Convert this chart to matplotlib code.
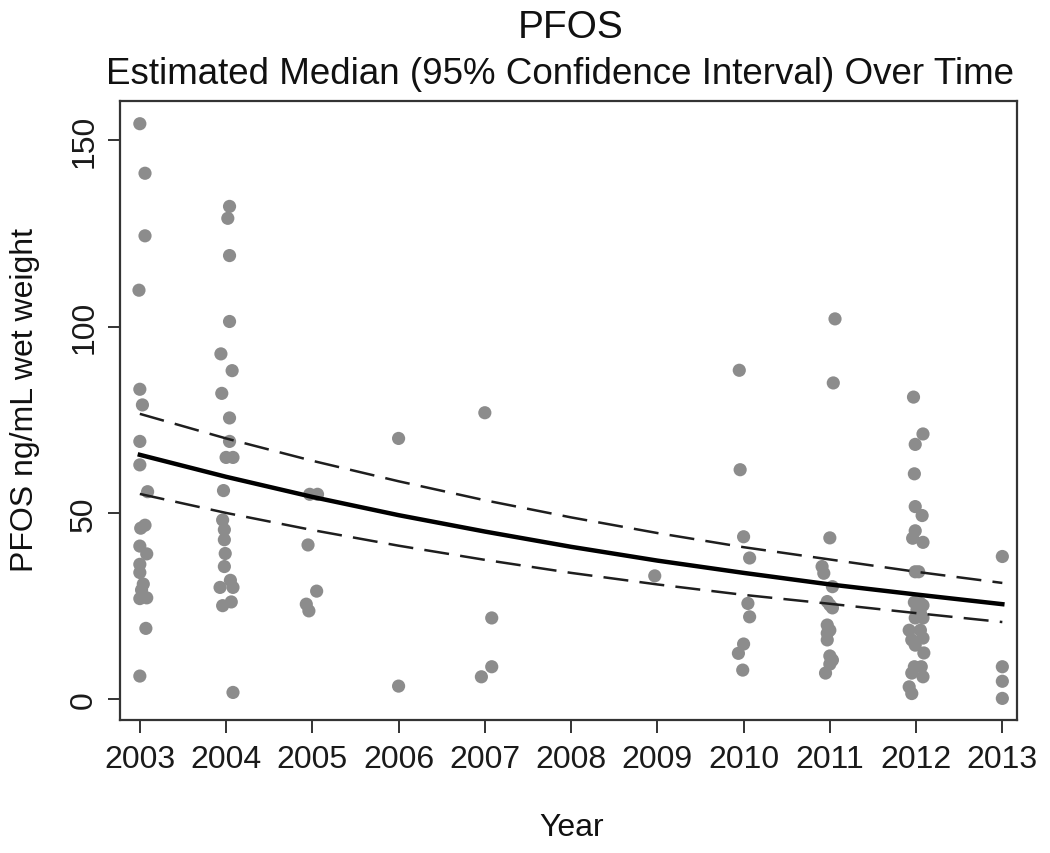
import matplotlib
matplotlib.use("Agg")
import matplotlib.pyplot as plt

plt.rcParams['font.family'] = ['Liberation Sans', 'DejaVu Sans']

# observed PFOS values (ng/mL), grouped by sampling year; x = year + small jitter
x_2003 = [2003.00, 2003.06, 2003.06, 2002.99, 2003.00, 2003.03, 2003.00, 2003.00, 2003.09, 2003.06,
          2003.01, 2003.00, 2003.08, 2003.00, 2003.00, 2003.04, 2003.02, 2003.00, 2003.08, 2003.07, 2003.00]
y_2003 = [154.5, 141.2, 124.4, 109.8, 83.2, 79.0, 69.2, 62.9, 55.7, 46.7,
          45.9, 41.1, 39.0, 36.2, 34.0, 30.9, 29.3, 27.0, 27.2, 19.0, 6.2]

x_2004 = [2004.04, 2004.02, 2004.04, 2004.04, 2003.94, 2004.07, 2003.95, 2004.04, 2004.04, 2004.00,
          2004.08, 2003.97, 2003.96, 2003.98, 2003.98, 2003.99, 2003.98, 2004.05, 2003.93, 2004.08,
          2004.06, 2003.96, 2004.08]
y_2004 = [132.3, 129.1, 119.1, 101.4, 92.7, 88.2, 82.1, 75.5, 69.2, 64.9,
          64.9, 56.0, 48.1, 45.5, 42.8, 39.1, 35.6, 31.9, 30.0, 30.0,
          26.1, 25.1, 1.8]

x_2005 = [2004.97, 2005.06, 2004.95, 2005.05, 2004.93, 2004.96]
y_2005 = [55.0, 55.0, 41.4, 29.0, 25.5, 23.7]

x_2006 = [2006.00, 2006.00]
y_2006 = [70.0, 3.5]

x_2007 = [2007.00, 2007.08, 2007.08, 2006.96]
y_2007 = [76.9, 21.8, 8.7, 6.0]

x_2009 = [2008.97]
y_2009 = [33.1]

x_2010 = [2009.95, 2009.96, 2010.00, 2010.07, 2010.05, 2010.07, 2010.00, 2009.94, 2009.99]
y_2010 = [88.3, 61.6, 43.6, 37.9, 25.7, 22.1, 14.8, 12.3, 7.8]

x_2011 = [2011.06, 2011.04, 2011.00, 2010.91, 2010.93, 2011.03, 2010.97, 2011.00, 2011.03,
          2010.97, 2011.00, 2010.97, 2010.97, 2011.00, 2011.03, 2011.00, 2010.95]
y_2011 = [102.1, 84.9, 43.3, 35.6, 33.8, 30.2, 26.2, 25.3, 24.5,
          19.9, 18.5, 17.7, 15.9, 11.6, 10.5, 9.4, 7.0]

x_2012 = [2011.97, 2012.08, 2011.99, 2011.98, 2011.99, 2012.07, 2011.99, 2011.96, 2012.08,
          2011.99, 2012.03, 2011.98, 2012.05, 2012.08, 2012.01, 2012.05, 2011.99, 2012.08,
          2011.92, 2012.05, 2011.95, 2012.08, 2011.99, 2012.09, 2011.98, 2012.06, 2011.95,
          2012.08, 2011.92, 2011.95]
y_2012 = [81.1, 71.2, 68.4, 60.5, 51.7, 49.3, 45.2, 43.2, 42.1,
          34.2, 34.2, 26.0, 25.7, 25.2, 23.9, 23.1, 21.8, 21.8,
          18.5, 18.5, 15.9, 16.4, 14.5, 12.4, 8.7, 8.7, 7.0,
          6.0, 3.3, 1.5]

x_2013 = [2013.00, 2013.00, 2013.00, 2013.00]
y_2013 = [38.3, 8.7, 4.8, 0.2]

# estimated median and 95% CI read at each year
fit_years = [2003, 2004, 2005, 2006, 2007, 2008, 2009, 2010, 2011, 2012, 2013]
median = [65.6, 59.7, 54.3, 49.4, 45.0, 40.9, 37.2, 33.9, 30.8, 28.1, 25.5]
upper = [76.6, 70.0, 64.0, 58.5, 53.4, 48.8, 44.6, 40.8, 37.5, 34.2, 31.2]
lower = [55.1, 50.0, 45.4, 41.2, 37.4, 33.9, 30.8, 28.0, 25.6, 23.1, 20.7]

year_ticks = list(range(2003, 2014))
y_ticks = [0, 50, 100, 150]

xs = x_2003 + x_2004 + x_2005 + x_2006 + x_2007 + x_2009 + x_2010 + x_2011 + x_2012 + x_2013
ys = y_2003 + y_2004 + y_2005 + y_2006 + y_2007 + y_2009 + y_2010 + y_2011 + y_2012 + y_2013

fig = plt.figure(figsize=(10.5, 8.54), dpi=100)
ax = fig.add_axes([120 / 1050, 1 - 721 / 854, 897 / 1050, 619 / 854])

ax.scatter(xs, ys, s=90, color='#8c8c8c', edgecolors='none', zorder=2)
ax.plot(fit_years, median, color='black', lw=3.2, zorder=3)
ax.plot(fit_years, upper, color='#1e1e1e', lw=1.8, dashes=(10, 4.5), zorder=3)
ax.plot(fit_years, lower, color='#1e1e1e', lw=1.8, dashes=(10, 4.5), zorder=3)

ax.set_xlim(2002.77, 2013.17)
ax.set_ylim(-5.6, 160.6)
ax.set_xticks(year_ticks)
ax.set_xticklabels([str(y) for y in year_ticks])
ax.set_yticks(y_ticks)
ax.set_yticklabels([str(v) for v in y_ticks], rotation=90, va='center')

for sp in ax.spines.values():
    sp.set_color('#333333')
    sp.set_linewidth(1.6)
ax.tick_params(axis='both', direction='out', length=9, width=1.4, color='#333333',
               labelsize=23)
ax.tick_params(axis='x', pad=8)
ax.tick_params(axis='y', pad=6)
for lab in ax.get_xticklabels() + ax.get_yticklabels():
    lab.set_color('#1a1a1a')

fig.text(571 / 1050, 1 - 28 / 854, 'PFOS', ha='center', va='center', fontsize=28, color='#111111')
fig.text(560 / 1050, 1 - 74 / 854, 'Estimated Median (95% Confidence Interval) Over Time',
         ha='center', va='center', fontsize=26.5, color='#111111')
fig.text(572 / 1050, 1 - 828 / 854, 'Year', ha='center', va='center', fontsize=23, color='#111111')
fig.text(25 / 1050, 1 - 400 / 854, 'PFOS ng/mL wet weight', ha='center', va='center',
         rotation=90, fontsize=23, color='#111111')

fig.savefig('out.png', dpi=100)
